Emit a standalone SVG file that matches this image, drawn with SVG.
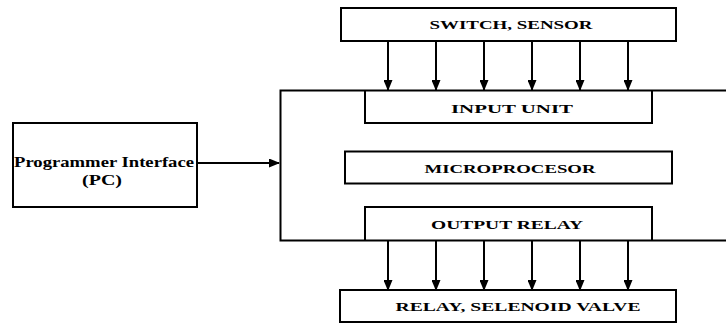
<svg xmlns="http://www.w3.org/2000/svg" width="726" height="325" viewBox="0 0 726 325">
<style>
.box{fill:#fff;stroke:#000;stroke-width:2}
.ln{fill:none;stroke:#000;stroke-width:2}
.t{font-family:"Liberation Serif","Times New Roman",serif;font-weight:bold;font-size:13.5px;text-anchor:middle;dominant-baseline:central;fill:#000}
.tp{font-family:"Liberation Serif","Times New Roman",serif;font-weight:bold;font-size:15px;text-anchor:middle;dominant-baseline:central;fill:#000}
</style>
<defs>
<marker id="ah" markerWidth="11" markerHeight="9" refX="10" refY="4.5" orient="auto" markerUnits="userSpaceOnUse">
<path d="M0,0 L11,4.5 L0,9 Z" fill="#000"/>
</marker>
</defs>
<rect width="726" height="325" fill="#fff"/>
<g id="outer">
<path class="ln" d="M726,90.5 H280.5 V240.5 H726" stroke-width="2.5"/>
</g>
<g id="switch-sensor">
<rect class="box" x="341" y="8" width="335" height="33"/>
<text class="t" x="511" y="24.5" textLength="163" lengthAdjust="spacingAndGlyphs">SWITCH, SENSOR</text>
</g>
<g id="input-unit">
<path class="ln" d="M365,90.5 V123 H652 V90.5"/>
<text class="t" x="512" y="108" textLength="122" lengthAdjust="spacingAndGlyphs">INPUT UNIT</text>
</g>
<g id="microprocessor">
<rect class="box" x="345" y="151.5" width="327" height="32"/>
<text class="t" x="510" y="168" textLength="171" lengthAdjust="spacingAndGlyphs">MICROPROCESOR</text>
</g>
<g id="output-relay">
<path class="ln" d="M365,240.5 V207 H652 V240.5"/>
<text class="t" x="507" y="224" textLength="152" lengthAdjust="spacingAndGlyphs">OUTPUT RELAY</text>
</g>
<g id="relay-valve">
<rect class="box" x="340" y="290" width="336" height="32"/>
<text class="t" x="518" y="306" textLength="245" lengthAdjust="spacingAndGlyphs">RELAY, SELENOID VALVE</text>
</g>
<g id="programmer">
<rect class="box" x="13" y="123" width="184" height="84"/>
<text class="tp" x="104" y="162" textLength="180" lengthAdjust="spacingAndGlyphs">Programmer Interface</text>
<text class="tp" x="102" y="180" textLength="40" lengthAdjust="spacingAndGlyphs">(PC)</text>
</g>
<g id="connectors">
<line class="ln" x1="197" y1="163" x2="279" y2="163" marker-end="url(#ah)"/>
<line class="ln" x1="388" y1="41" x2="388" y2="90" marker-end="url(#ah)"/>
<line class="ln" x1="436" y1="41" x2="436" y2="90" marker-end="url(#ah)"/>
<line class="ln" x1="484" y1="41" x2="484" y2="90" marker-end="url(#ah)"/>
<line class="ln" x1="532" y1="41" x2="532" y2="90" marker-end="url(#ah)"/>
<line class="ln" x1="580" y1="41" x2="580" y2="90" marker-end="url(#ah)"/>
<line class="ln" x1="628" y1="41" x2="628" y2="90" marker-end="url(#ah)"/>
<line class="ln" x1="388" y1="241" x2="388" y2="290" marker-end="url(#ah)"/>
<line class="ln" x1="436" y1="241" x2="436" y2="290" marker-end="url(#ah)"/>
<line class="ln" x1="484" y1="241" x2="484" y2="290" marker-end="url(#ah)"/>
<line class="ln" x1="532" y1="241" x2="532" y2="290" marker-end="url(#ah)"/>
<line class="ln" x1="580" y1="241" x2="580" y2="290" marker-end="url(#ah)"/>
<line class="ln" x1="628" y1="241" x2="628" y2="290" marker-end="url(#ah)"/>
</g>
</svg>
